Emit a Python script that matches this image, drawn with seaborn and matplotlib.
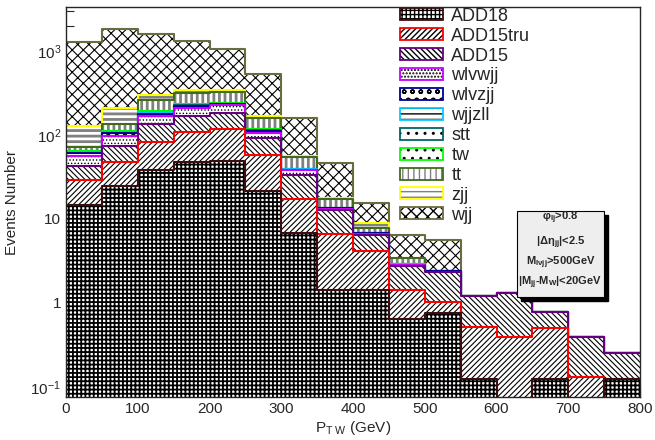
import numpy as np
import pandas as pd
import seaborn as sns
import matplotlib.pyplot as plt
from matplotlib.patches import Patch, Rectangle
from matplotlib.ticker import FixedLocator, FixedFormatter, LogLocator, MultipleLocator, NullFormatter

# binning in P_TW (GeV): 16 bins of 50 GeV
bin_width = 50
pt_range = (0, 800)
bin_centers = np.arange(25, 800, 50)

# per-sample event counts per bin, stacked bottom -> top in this order
samples = ["ADD18", "ADD15tru", "ADD15", "wlvwjj", "wlvzjj", "wjjzll",
           "stt", "tw", "tt", "zjj", "wjj"]
add18 = [14.6, 24.5, 38.7, 47.7, 48.6, 21.4, 6.9, 1.41, 1.41, 0.65, 0.76, 0.126, 0, 0.126, 0, 0.126]
add15tru = [14.8, 23.2, 43.9, 61.3, 70.4, 35.9, 10.6, 5.29, 2.71, 0.76, 0.27, 0.394, 0.39, 0.374, 0.13, 0]
add15 = [13.0, 25.3, 52.4, 59.0, 66.0, 34.7, 16.3, 6.0, 2.38, 1.33, 1.32, 0.68, 0.94, 0.28, 0.26, 0.128]
wlvwjj = [13.3, 23.6, 33.0, 44.0, 41.0, 15.0, 4.2, 0.6, 0.2, 0.11, 0.02, 0, 0, 0, 0, 0]
wlvzjj = [6.0, 9.4, 12.0, 9.0, 6.0, 5.0, 0.8, 0.1, 0.05, 0.02, 0.01, 0, 0, 0, 0, 0]
wjjzll = [0.8, 2.0, 3.0, 3.0, 3.0, 1.0, 0.2, 0.05, 0.03, 0.01, 0, 0, 0, 0, 0, 0]
stt = [0.5, 1.0, 2.0, 2.0, 2.0, 1.0, 0.3, 0.05, 0.02, 0.01, 0, 0, 0, 0, 0, 0]
tw = [1.0, 3.0, 8.0, 6.0, 6.0, 3.0, 0.5, 0.1, 0.05, 0.01, 0, 0, 0, 0, 0, 0]
tt = [8.0, 22.0, 66.0, 88.0, 82.0, 44.0, 14.5, 3.9, 1.05, 0.5, 0, 0, 0, 0, 0, 0]
zjj = [55.0, 75.0, 44.0, 27.0, 22.0, 7.0, 1.9, 0.1, 1.16, 0, 0, 0, 0, 0, 0, 0]
wjj = [1167, 1639, 1308, 968, 701, 360, 103, 29.3, 6.44, 3.1, 3.22, 0.02, 0, 0, 0, 0]
values = [add18, add15tru, add15, wlvwjj, wlvzjj, wjjzll, stt, tw, tt, zjj, wjj]

cut_lines = ["φ$_{\\mathbf{lj}}$>0.8", "|Δη$_{\\mathbf{jj}}$|<2.5",
             "M$_{\\mathbf{lνjj}}$>500GeV", "|M$_{\\mathbf{jj}}$-M$_{\\mathbf{W}}$|<20GeV"]

# ROOT-ish styles: border colour, hatch, hatch colour, hatch width
border = ["#3c0d0d", "#ff0000", "#660080", "#cc00ff", "#000099", "#00ccff",
          "#006666", "#00ff00", "#3f6b1a", "#ffff00", "#6b6b40"]
hatches = ["++++", "//////", "\\\\\\\\\\\\", ".....", "oo", "---", "..", "..", "|||", "---", "xxx"]
hatch_col = ["black", "black", "black", "black", "black", "black",
             "black", "black", "#808080", "#808080", "black"]
hatch_lw = [1.3, 0.8, 0.8, 0.6, 0.6, 0.6, 0.6, 0.6, 2.0, 2.0, 0.8]

sns.set_style("ticks")
plt.rcParams["font.family"] = ["Liberation Sans", "DejaVu Sans"]
plt.rcParams["mathtext.fontset"] = "custom"
plt.rcParams["mathtext.rm"] = "Liberation Sans"
plt.rcParams["mathtext.it"] = "Liberation Sans:italic"
plt.rcParams["mathtext.bf"] = "Liberation Sans:bold"
plt.rcParams["mathtext.default"] = "regular"

fig = plt.figure(figsize=(6.55, 4.4), dpi=100)
ax = fig.add_axes([66 / 655, 43 / 440, 574 / 655, 390 / 440])
ax.set_yscale("log")

cum = np.cumsum(np.array(values, dtype=float), axis=0)
n = len(samples)

# draw like a THStack: top (cumulative) histogram first, lower ones on top of it
for k in reversed(range(n)):
    z = 2 + 2 * (n - k)
    df = pd.DataFrame({"pt": bin_centers, "w": cum[k]})
    with plt.rc_context({"hatch.linewidth": hatch_lw[k]}):
        sns.histplot(data=df, x="pt", weights="w", binwidth=bin_width, binrange=pt_range,
                     element="step", fill=True, ax=ax)
        coll = ax.collections[-1]
        coll.set_alpha(1)
        coll.set_facecolor("white")
        coll.set_edgecolor(hatch_col[k])
        coll.set_linewidth(0)
        coll.set_hatch(hatches[k])
        if hasattr(coll, "set_hatch_linewidth"):
            coll.set_hatch_linewidth(hatch_lw[k])
        coll.set_zorder(z)
    sns.histplot(data=df, x="pt", weights="w", binwidth=bin_width, binrange=pt_range,
                 element="step", fill=False, color=border[k], linewidth=1.5, ax=ax)
    ax.lines[-1].set_zorder(z + 1)

ax.set_xlim(0, 800)
ax.set_ylim(0.076, 3340)

ax.xaxis.set_major_locator(MultipleLocator(100))
ax.xaxis.set_minor_locator(MultipleLocator(20))
ax.yaxis.set_major_locator(FixedLocator([0.1, 1, 10, 100, 1000]))
ax.yaxis.set_major_formatter(FixedFormatter(["$10^{-1}$", "1", "10", "$10^{2}$", "$10^{3}$"]))
ax.yaxis.set_minor_locator(LogLocator(base=10, subs=np.arange(2, 10)))
ax.yaxis.set_minor_formatter(NullFormatter())
ax.tick_params(axis="both", which="both", direction="in", labelsize=11, width=0.8)
ax.tick_params(axis="y", which="major", length=10)
ax.tick_params(axis="y", which="minor", length=6)
ax.tick_params(axis="x", which="major", length=8)
ax.tick_params(axis="x", which="minor", length=4)
for sp in ax.spines.values():
    sp.set_linewidth(1.0)
    sp.set_zorder(100)

ax.set_xlabel("P$_{T\\ W}$ (GeV)", fontsize=11, labelpad=2)
ax.set_ylabel("Events Number", fontsize=11, labelpad=8)

# legend (black hatch inside a coloured frame)
handles = []
for k in range(n):
    with plt.rc_context({"hatch.linewidth": hatch_lw[k]}):
        fill_patch = Patch(facecolor="white", edgecolor=hatch_col[k], hatch=hatches[k], lw=0)
    frame_patch = Patch(facecolor="none", edgecolor=border[k], lw=1.3)
    handles.append((fill_patch, frame_patch))
leg = ax.legend(handles, samples, loc="upper left",
                bbox_to_anchor=(398 / 655, 1 - 6 / 440), bbox_transform=fig.transFigure,
                fontsize=13, handlelength=2.4, handleheight=0.65, handletextpad=0.45,
                labelspacing=0.16, borderpad=0.1, borderaxespad=0, frameon=True,
                fancybox=False)
leg.get_frame().set_facecolor("white")
leg.get_frame().set_edgecolor("none")
leg.set_zorder(50)

# cuts box with ROOT shadow
x0, x1 = (517 - 66) / 574, (604 - 66) / 574
y0, y1 = (397 - 297) / 390, (397 - 211) / 390
ax.add_patch(Rectangle((x0 + 4 / 574, y0 - 4 / 390), x1 - x0, y1 - y0,
                       transform=ax.transAxes, facecolor="black", edgecolor="black", zorder=60))
ax.add_patch(Rectangle((x0, y0), x1 - x0, y1 - y0, transform=ax.transAxes,
                       facecolor="#eeeeee", edgecolor="black", lw=0.8, zorder=61))
for txt, yy in zip(cut_lines, [218, 242.7, 263, 283]):
    ax.text((x0 + x1) / 2, (397 - yy) / 390, txt, transform=ax.transAxes,
            ha="center", va="center", fontsize=8, fontweight="bold", zorder=62)

fig.savefig("out.png", dpi=100)
